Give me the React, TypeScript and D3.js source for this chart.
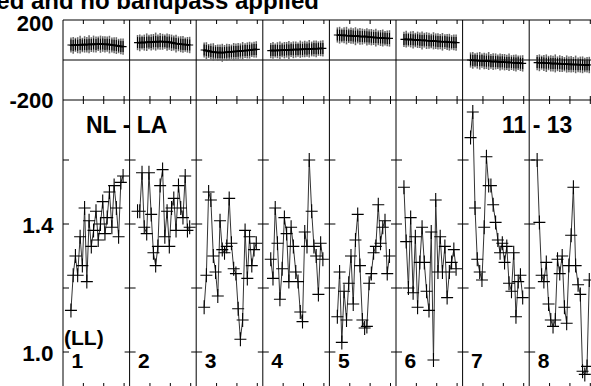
import React from "react";
import * as d3 from "d3";

const titleText = "ed and no bandpass applied";
const panelLabels = ["1", "2", "3", "4", "5", "6", "7", "8"];
const phaseTicks = [200, -200];
const ampTicks = [1.0, 1.2, 1.4, 1.6];
const ampTickLabels = ["1.0", "1.4"];
const timeTicks = [1, 2, 3];

const times = [0.39, 0.5, 0.61, 0.72, 0.84, 0.95, 1.06, 1.17, 1.28, 1.39, 1.5, 1.62, 1.73, 1.84, 1.95, 2.06, 2.17, 2.28, 2.4, 2.51, 2.62, 2.73, 2.84, 2.95];

const amp1 = [1.13, 1.24, 1.3, 1.24, 1.36, 1.27, 1.45, 1.22, 1.41, 1.33, 1.38, 1.44, 1.35, 1.4, 1.47, 1.37, 1.42, 1.5, 1.39, 1.52, 1.45, 1.36, 1.53, 1.55];
const amp2 = [1.44, 1.44, 1.56, 1.39, 1.37, 1.56, 1.43, 1.31, 1.27, 1.33, 1.52, 1.57, 1.36, 1.44, 1.33, 1.45, 1.48, 1.38, 1.52, 1.45, 1.42, 1.55, 1.38, 1.39];
const amp3 = [1.14, 1.24, 1.5, 1.475, 1.3, 1.25, 1.175, 1.41, 1.32, 1.31, 1.33, 1.48, 1.34, 1.26, 1.245, 1.135, 1.04, 1.1, 1.38, 1.23, 1.36, 1.27, 1.32, 1.34];
const amp4 = [1.29, 1.23, 1.45, 1.34, 1.165, 1.26, 1.42, 1.37, 1.22, 1.39, 1.33, 1.25, 1.22, 1.125, 1.095, 1.375, 1.33, 1.6, 1.44, 1.33, 1.3, 1.18, 1.34, 1.29];
const amp5 = [1.11, 1.25, 1.03, 1.19, 1.1, 1.215, 1.3, 1.15, 1.35, 1.43, 1.27, 1.1, 1.075, 1.08, 1.215, 1.245, 1.31, 1.33, 1.46, 1.34, 1.39, 1.41, 1.245, 1.3];
const amp6 = [1.515, 1.345, 1.2, 1.42, 1.185, 1.36, 1.14, 1.28, 1.39, 1.28, 1.19, 1.13, 1.375, 0.975, 1.475, 1.25, 1.36, 1.25, 1.33, 1.17, 1.25, 1.28, 1.32, 1.26];
const amp7 = [1.67, 1.75, 1.45, 1.29, 1.25, 1.225, 1.39, 1.61, 1.52, 1.52, 1.46, 1.405, 1.35, 1.31, 1.34, 1.28, 1.33, 1.215, 1.19, 1.31, 1.11, 1.22, 1.24, 1.17];
const amp8 = [1.6, 1.405, 1.24, 1.22, 1.28, 1.15, 1.1, 1.08, 1.1, 1.29, 1.245, 1.3, 1.14, 1.09, 1.27, 1.365, 1.515, 1.27, 1.21, 1.18, 0.94, 0.93, 0.955, 1.225];

const ph1 = [75, 73, 76, 74, 77, 75, 78, 76, 79, 77, 80, 78, 81, 79, 80, 78, 79, 77, 75, 74, 72, 70, 68, 67];
const ph2 = [87, 86, 88, 87, 89, 90, 88, 91, 92, 90, 93, 91, 92, 89, 90, 86, 85, 82, 81, 79, 78, 77, 76, 75];
const ph3 = [50, 47, 45, 42, 40, 39, 37, 38, 36, 38, 39, 40, 41, 42, 43, 44, 45, 46, 47, 48, 49, 51, 52, 53];
const ph4 = [47, 48, 47, 49, 48, 50, 49, 51, 50, 52, 51, 53, 52, 54, 53, 55, 54, 56, 55, 57, 56, 57, 58, 58];
const ph5 = [125, 124, 123, 124, 122, 121, 122, 120, 119, 120, 118, 117, 118, 116, 115, 114, 113, 112, 111, 110, 110, 109, 108, 108];
const ph6 = [103, 104, 102, 103, 101, 100, 101, 99, 98, 99, 97, 96, 95, 96, 94, 93, 92, 91, 92, 90, 89, 88, 88, 87];
const ph7 = [0, -2, -1, -3, -4, -3, -5, -6, -5, -7, -8, -7, -9, -10, -9, -11, -12, -11, -13, -14, -15, -14, -16, -17];
const ph8 = [-13, -14, -13, -15, -16, -15, -17, -18, -17, -19, -18, -20, -21, -20, -22, -21, -23, -22, -24, -23, -24, -25, -24, -25];

const phaseErr = [38, 42, 35, 40, 44, 36, 41, 39, 45, 37, 42, 40, 36, 43, 39, 41, 38, 44, 37, 40, 42, 36, 39, 41];

const ampSeries = [amp1, amp2, amp3, amp4, amp5, amp6, amp7, amp8];
const phaseSeries = [ph1, ph2, ph3, ph4, ph5, ph6, ph7, ph8];

const FONT = "'Liberation Sans', Arial, Helvetica, sans-serif";
const W = 591;
const H = 386;
const plotLeft = 63;
const panelW = 66.6;
const nPanels = 8;
const plotRight = plotLeft + panelW * nPanels;
const phTop = 20;
const phBottom = 100;
const ampBottom = 388;

const yPh = d3.scaleLinear().domain([-200, 200]).range([phBottom, phTop]);
const yAmp = d3.scaleLinear().domain([0.8875, 1.7875]).range([ampBottom, phBottom]);

function cross(x: number, y: number, hx: number, hy: number) {
  return `M${x - hx},${y}H${x + hx}M${x},${y - hy}V${y + hy}`;
}

export default function App() {
  const panels = d3.range(nPanels).map((i) => {
    const left = plotLeft + i * panelW;
    const x = d3.scaleLinear().domain([0, 3.27]).range([left, left + panelW]);
    return { i, left, x };
  });

  const ampLine = (x: d3.ScaleLinear<number, number>) =>
    d3
      .line<number>()
      .x((_, j) => x(times[j]))
      .y((d) => yAmp(d));
  const phLine = (x: d3.ScaleLinear<number, number>) =>
    d3
      .line<number>()
      .x((_, j) => x(times[j]))
      .y((d) => yPh(d));

  return (
    <svg
      width={W}
      height={H}
      style={{ position: "absolute", left: 0, top: 0, background: "#fff" }}
      fontFamily={FONT}
      fontWeight="bold"
    >
      <rect x={0} y={0} width={W} height={H} fill="#fff" />
      <text x={319} y={9} fontSize={24} textAnchor="end" fill="#000">
        {titleText}
      </text>

      {/* frame lines */}
      <g stroke="#000" strokeWidth={1} fill="none">
        <line x1={plotLeft} x2={plotRight} y1={phTop} y2={phTop} />
        <line x1={plotLeft} x2={plotRight} y1={yPh(0)} y2={yPh(0)} />
        <line x1={plotLeft} x2={plotRight} y1={phBottom} y2={phBottom} />
        {panels.map((p) => (
          <line key={p.i} x1={p.left} x2={p.left} y1={phTop} y2={ampBottom} />
        ))}
        <line x1={plotRight} x2={plotRight} y1={phTop} y2={ampBottom} />
      </g>

      {/* time ticks */}
      <g stroke="#000" strokeWidth={1}>
        {panels.map((p) =>
          timeTicks.map((t) => {
            const tx = p.x(t);
            return (
              <g key={`${p.i}-${t}`}>
                <line x1={tx} x2={tx} y1={phTop} y2={phTop + 4} />
                <line x1={tx} x2={tx} y1={phBottom - 4} y2={phBottom + 4} />
                <line x1={tx} x2={tx} y1={ampBottom - 5} y2={ampBottom} />
              </g>
            );
          })
        )}
      </g>

      {/* amplitude y ticks at panel boundaries */}
      <g stroke="#000" strokeWidth={1}>
        {panels.map((p) =>
          ampTicks.map((v) => (
            <line
              key={`${p.i}-${v}`}
              x1={p.i === 0 ? p.left : p.left - 5}
              x2={p.left + 6}
              y1={yAmp(v)}
              y2={yAmp(v)}
            />
          ))
        )}
      </g>

      {/* phase data */}
      {panels.map((p) => {
        const ph = phaseSeries[p.i];
        return (
          <g key={`ph${p.i}`}>
            <g stroke="#666" strokeWidth={1.5}>
              {ph.map((v, j) => (
                <line
                  key={j}
                  x1={p.x(times[j])}
                  x2={p.x(times[j])}
                  y1={yPh(v - phaseErr[j])}
                  y2={yPh(v + phaseErr[j])}
                />
              ))}
            </g>
            <path d={phLine(p.x)(ph) || ""} stroke="#000" strokeWidth={1.8} fill="none" />
            <path
              d={ph.map((v, j) => cross(p.x(times[j]), yPh(v), 3.5, 5.5)).join("")}
              stroke="#000"
              strokeWidth={1.1}
              fill="none"
            />
          </g>
        );
      })}

      {/* amplitude data */}
      {panels.map((p) => {
        const a = ampSeries[p.i];
        return (
          <g key={`amp${p.i}`}>
            <path d={ampLine(p.x)(a) || ""} stroke="#333" strokeWidth={1} fill="none" />
            <path
              d={a.map((v, j) => cross(p.x(times[j]), yAmp(v), 6, 7)).join("")}
              stroke="#000"
              strokeWidth={1.1}
              fill="none"
            />
          </g>
        );
      })}

      {/* axis labels */}
      <g fill="#000" fontSize={22} textAnchor="end">
        <text x={53.5} y={30.5}>{phaseTicks[0]}</text>
        <text x={53.5} y={108}>{phaseTicks[1]}</text>
      </g>
      <g fill="#000" fontSize={22.5} textAnchor="end">
        {ampTickLabels.map((l) => (
          <text key={l} x={53.5} y={yAmp(+l) + 8.5}>
            {l}
          </text>
        ))}
      </g>

      {/* annotations */}
      <g fill="#000" fontSize={23}>
        <text x={86} y={133}>NL - LA</text>
        <text x={502} y={133}>11 - 13</text>
      </g>
      <text x={64} y={344.5} fontSize={21} fill="#000">(LL)</text>
      <g fill="#000" fontSize={21}>
        {panels.map((p) => (
          <text key={p.i} x={p.left + 8.5} y={367.5}>
            {panelLabels[p.i]}
          </text>
        ))}
      </g>
    </svg>
  );
}
